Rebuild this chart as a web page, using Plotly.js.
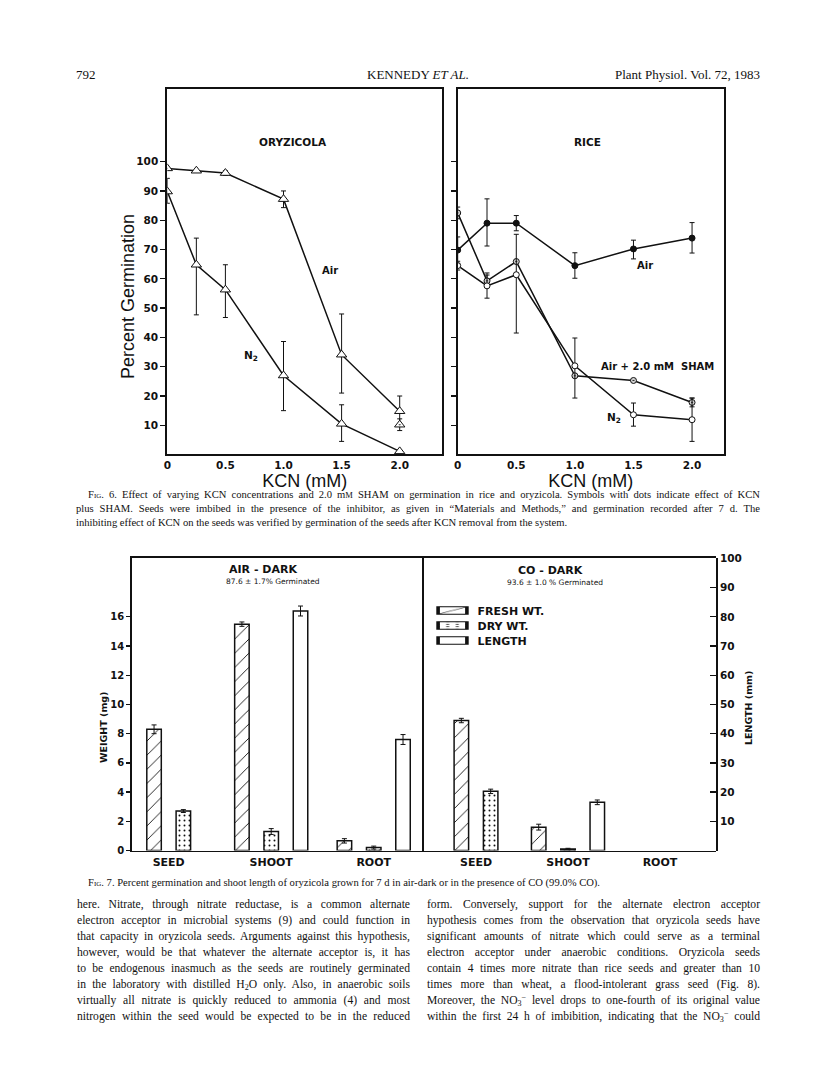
<!DOCTYPE html>
<html>
<head>
<meta charset="utf-8">
<script src="https://cdn.plot.ly/plotly-3.0.1.min.js"></script>
<style>
  body { margin:0; padding:0; background:#fff; }
  #page { position:relative; width:816px; height:1073px; overflow:hidden; background:#fff; }
  #chart { position:absolute; left:0; top:0; width:816px; height:1073px; }
  .t { position:absolute; font-family:"Liberation Serif","Times New Roman",serif; color:#111; white-space:nowrap; }
  .hdr { font-size:13px; line-height:16px; }
  .cap { font-size:10.6px; line-height:14px; height:14px; }
  .body { font-size:11.6px; line-height:16px; height:16px; width:333px; text-align:justify; text-align-last:justify; }
  .j { text-align:justify; text-align-last:justify; }
  .sc { font-variant:small-caps; }
  .lo { font-size:70%; position:relative; top:0.25em; line-height:0; vertical-align:baseline; }
  .hi { font-size:70%; position:relative; top:-0.45em; line-height:0; vertical-align:baseline; }
</style>
</head>
<body>
<div id="page">
  <div id="chart"></div>

  <div class="t hdr" style="left:76px;top:67px;">792</div>
  <div class="t hdr" style="left:318px;top:67px;width:200px;text-align:center;">KENNEDY <i>ET AL.</i></div>
  <div class="t hdr" style="left:560px;top:67px;width:200px;text-align:right;">Plant Physiol. Vol. 72, 1983</div>

  <div class="t cap j" style="left:88px;top:488px;width:672px;"><span class="sc">Fig.</span> 6. Effect of varying KCN concentrations and 2.0 m<span style="font-size:80%">M</span> SHAM on germination in rice and oryzicola. Symbols with dots indicate effect of KCN</div>
  <div class="t cap j" style="left:76px;top:502px;width:684px;">plus SHAM. Seeds were imbibed in the presence of the inhibitor, as given in “Materials and Methods,” and germination recorded after 7 d. The</div>
  <div class="t cap" style="left:76px;top:516px;">inhibiting effect of KCN on the seeds was verified by germination of the seeds after KCN removal from the system.</div>

  <div class="t cap" style="left:88px;top:876px;"><span class="sc">Fig.</span> 7. Percent germination and shoot length of oryzicola grown for 7 d in air-dark or in the presence of CO (99.0% CO).</div>

  <div class="t body" style="left:77px;top:897px;">here. Nitrate, through nitrate reductase, is a common alternate</div>
  <div class="t body" style="left:77px;top:913px;">electron acceptor in microbial systems (9) and could function in</div>
  <div class="t body" style="left:77px;top:929px;">that capacity in oryzicola seeds. Arguments against this hypothesis,</div>
  <div class="t body" style="left:77px;top:945px;">however, would be that whatever the alternate acceptor is, it has</div>
  <div class="t body" style="left:77px;top:961px;">to be endogenous inasmuch as the seeds are routinely germinated</div>
  <div class="t body" style="left:77px;top:977px;">in the laboratory with distilled H<span class="lo">2</span>O only. Also, in anaerobic soils</div>
  <div class="t body" style="left:77px;top:993px;">virtually all nitrate is quickly reduced to ammonia (4) and most</div>
  <div class="t body" style="left:77px;top:1009px;">nitrogen within the seed would be expected to be in the reduced</div>

  <div class="t body" style="left:427px;top:897px;">form. Conversely, support for the alternate electron acceptor</div>
  <div class="t body" style="left:427px;top:913px;">hypothesis comes from the observation that oryzicola seeds have</div>
  <div class="t body" style="left:427px;top:929px;">significant amounts of nitrate which could serve as a terminal</div>
  <div class="t body" style="left:427px;top:945px;">electron acceptor under anaerobic conditions. Oryzicola seeds</div>
  <div class="t body" style="left:427px;top:961px;">contain 4 times more nitrate than rice seeds and greater than 10</div>
  <div class="t body" style="left:427px;top:977px;">times more than wheat, a flood-intolerant grass seed (Fig. 8).</div>
  <div class="t body" style="left:427px;top:993px;">Moreover, the NO<span class="lo">3</span><span class="hi">−</span> level drops to one-fourth of its original value</div>
  <div class="t body" style="left:427px;top:1009px;">within the first 24 h of imbibition, indicating that the NO<span class="lo">3</span><span class="hi">−</span> could</div>
</div>

<script>
// ---------------- DATA ----------------
// Fig. 6 — KCN concentration (mM)
const kcn = [0, 0.25, 0.5, 1.0, 1.5, 2.0];
const kcnTickVals = [0, 0.5, 1.0, 1.5, 2.0];
const kcnTickText = ['0', '0.5', '1.0', '1.5', '2.0'];
const germTickVals = [10, 20, 30, 40, 50, 60, 70, 80, 90, 100];

// Oryzicola
const oryAir = [97.7, 96.9, 96.1, 87.2, 34.1, 14.8];
const oryAirErrPlus = [0, 0, 0.8, 2.8, 13.9, 5.2];
const oryAirErrMinus = [0, 0, 0.8, 2.9, 13.1, 5.0];
const oryN2 = [89.8, 64.8, 56.3, 27.0, 10.5, 1.1];
const oryN2ErrPlus = [4.5, 9.1, 8.5, 11.6, 6.5, 0];
const oryN2ErrMinus = [4.0, 17.1, 9.5, 12.0, 6.0, 0];
const oryShamKcn = [2.0];
const orySham = [10.2];
const oryShamErr = [2.0];

// Rice
const riceAir = [69.8, 79.0, 79.0, 64.5, 70.2, 73.9];
const riceAirErrPlus = [4.5, 8.3, 2.6, 4.4, 3.0, 5.3];
const riceAirErrMinus = [4.5, 7.8, 2.6, 4.3, 3.4, 5.1];
const riceSham = [82.5, 59.3, 65.9, 26.9, 25.3, 17.8];
const riceShamErr = [2.0, 2.0, 0, 0, 0, 1.5];
const riceN2 = [64.5, 57.6, 61.4, 30.3, 13.6, 11.9];
const riceN2ErrPlus = [1.5, 4.4, 13.8, 9.5, 4.0, 7.4];
const riceN2ErrMinus = [1.5, 4.2, 19.9, 11.0, 3.9, 7.4];

// Fig. 7 — organs
const parts = ['SEED', 'SHOOT', 'ROOT'];
const weightTickVals = [0, 2, 4, 6, 8, 10, 12, 14, 16];
const lengthTickVals = [10, 20, 30, 40, 50, 60, 70, 80, 90, 100];
// Air - dark (weights mg, length mm)
const airFresh = [8.3, 15.5, 0.66];
const airFreshErr = [0.3, 0.15, 0.15];
const airDry = [2.7, 1.3, 0.2];
const airDryErr = [0.1, 0.2, 0.1];
const airLength = [null, 82, 38];
const airLengthErr = [0, 1.7, 1.7];
// CO - dark
const coFresh = [8.9, 1.6, null];
const coFreshErr = [0.15, 0.2, 0];
const coDry = [4.05, 0.1, null];
const coDryErr = [0.15, 0.05, 0];
const coLength = [null, 16.5, null];
const coLengthErr = [0, 0.8, 0];

// ---------------- LAYOUT HELPERS ----------------
const W = 816, H = 1073;
const fx = p => p / W;
const fy = p => 1 - p / H;
const BOLD = {family: 'DejaVu Sans, Verdana, sans-serif', weight: 'bold', color: '#111'};
const SANS = {family: 'Liberation Sans, Arial, sans-serif', color: '#111'};

function errs(plus, minus) {
  return {type: 'data', symmetric: false, array: plus, arrayminus: minus,
          color: '#111', thickness: 1, width: 2.5};
}
const lineStyle = {color: '#111', width: 1.5};

const traces = [];
// Fig 6 left: Oryzicola
traces.push({x: kcn, y: oryAir, xaxis: 'x', yaxis: 'y', type: 'scatter', mode: 'lines+markers',
  name: 'Air', line: lineStyle, cliponaxis: true,
  marker: {symbol: 'triangle-up', size: 9, color: 'white', line: {color: '#111', width: 1}},
  error_y: errs(oryAirErrPlus, oryAirErrMinus), showlegend: false});
traces.push({x: kcn, y: oryN2, xaxis: 'x', yaxis: 'y', type: 'scatter', mode: 'lines+markers',
  name: 'N2', line: lineStyle, cliponaxis: true,
  marker: {symbol: 'triangle-up', size: 9, color: 'white', line: {color: '#111', width: 1}},
  error_y: errs(oryN2ErrPlus, oryN2ErrMinus), showlegend: false});
traces.push({x: oryShamKcn, y: orySham, xaxis: 'x', yaxis: 'y', type: 'scatter', mode: 'markers',
  name: 'Air + SHAM', cliponaxis: true,
  marker: {symbol: 'triangle-up-dot', size: 9, color: 'white', line: {color: '#111', width: 1}},
  error_y: errs(oryShamErr, oryShamErr), showlegend: false});

// Fig 6 right: Rice
traces.push({x: kcn, y: riceAir, xaxis: 'x2', yaxis: 'y2', type: 'scatter', mode: 'lines+markers',
  name: 'Air', line: lineStyle, cliponaxis: true,
  marker: {symbol: 'circle', size: 6, color: '#111', line: {color: '#111', width: 1}},
  error_y: errs(riceAirErrPlus, riceAirErrMinus), showlegend: false});
traces.push({x: kcn, y: riceSham, xaxis: 'x2', yaxis: 'y2', type: 'scatter', mode: 'lines+markers',
  name: 'Air + 2.0 mM SHAM', line: lineStyle, cliponaxis: true,
  marker: {symbol: 'circle-dot', size: 6, color: '#cfcfcf', line: {color: '#111', width: 1}},
  error_y: errs(riceShamErr, riceShamErr), showlegend: false});
traces.push({x: kcn, y: riceN2, xaxis: 'x2', yaxis: 'y2', type: 'scatter', mode: 'lines+markers',
  name: 'N2', line: lineStyle, cliponaxis: true,
  marker: {symbol: 'circle', size: 6, color: 'white', line: {color: '#111', width: 1}},
  error_y: errs(riceN2ErrPlus, riceN2ErrMinus), showlegend: false});

// Fig 7 bars
const BAR_PX = 14.5, SLOT_PX = 29.3;
const X3 = [132, 422], X3R = [-0.358, 2.471];
const X4 = [422, 716], X4R = [-0.587, 2.609];
const ppc3 = (X3[1] - X3[0]) / (X3R[1] - X3R[0]);
const ppc4 = (X4[1] - X4[0]) / (X4R[1] - X4R[0]);

function groupOffsets(series, ppc) {
  const w = BAR_PX / ppc, s = SLOT_PX / ppc;
  const out = series.map(() => []);
  for (let i = 0; i < parts.length; i++) {
    const present = [];
    series.forEach((ser, k) => { if (ser[i] !== null && ser[i] !== undefined) present.push(k); });
    series.forEach((ser, k) => { out[k][i] = -w / 2; });
    present.forEach((k, j) => { out[k][i] = (j - (present.length - 1) / 2) * s - w / 2; });
  }
  return {w: w, off: out};
}
const freshPattern = {shape: '/', fgcolor: '#111', bgcolor: 'white', size: 10, solidity: 0.09};
const dryPattern = {shape: '.', fgcolor: '#111', bgcolor: 'white', size: 5, solidity: 0.12};
const barLine = {color: '#111', width: 1.5};
const barErr = arr => ({type: 'data', array: arr, color: '#111', thickness: 1, width: 2.5});

function addPanel(fresh, fErr, dry, dErr, len, lErr, xa, ppc, legend) {
  const g = groupOffsets([fresh, dry, len], ppc);
  traces.push({type: 'bar', x: parts, y: fresh, xaxis: xa, yaxis: 'y3', name: 'FRESH WT.',
    width: g.w, offset: g.off[0], marker: {color: 'white', line: barLine, pattern: freshPattern},
    error_y: barErr(fErr), showlegend: legend, legendrank: 1});
  traces.push({type: 'bar', x: parts, y: dry, xaxis: xa, yaxis: 'y3', name: 'DRY WT.',
    width: g.w, offset: g.off[1], marker: {color: 'white', line: barLine, pattern: dryPattern},
    error_y: barErr(dErr), showlegend: legend, legendrank: 2});
  traces.push({type: 'bar', x: parts, y: len, xaxis: xa, yaxis: 'y4', name: 'LENGTH',
    width: g.w, offset: g.off[2], marker: {color: 'white', line: barLine},
    error_y: barErr(lErr), showlegend: legend, legendrank: 3});
}
addPanel(airFresh, airFreshErr, airDry, airDryErr, airLength, airLengthErr, 'x3', ppc3, true);
addPanel(coFresh, coFreshErr, coDry, coDryErr, coLength, coLengthErr, 'x4', ppc4, false);

// ---------------- AXES ----------------
const F6Y = [fy(454), fy(89)];
const F7Y = [fy(850.5), fy(558)];
const common = {showgrid: false, zeroline: false, showline: true, linecolor: '#111', fixedrange: true};

const layout = {
  width: W, height: H,
  margin: {l: 0, r: 0, t: 0, b: 0},
  paper_bgcolor: 'rgba(0,0,0,0)', plot_bgcolor: 'rgba(0,0,0,0)',
  showlegend: true,
  legend: {x: fx(427.5), y: fy(596), xanchor: 'left', yanchor: 'top', bgcolor: 'rgba(0,0,0,0)',
           font: Object.assign({size: 11}, BOLD), itemwidth: 40, tracegroupgap: 0,
           traceorder: 'normal', itemclick: false, itemdoubleclick: false},
  bargap: 0,
  xaxis: Object.assign({}, common, {domain: [fx(167.3), fx(442)], range: [0, 2.364], anchor: 'y',
    linewidth: 2, mirror: true, ticks: '', tickvals: kcnTickVals, ticktext: kcnTickText,
    tickfont: Object.assign({size: 10.5}, BOLD),
    title: {text: 'KCN (mM)', font: Object.assign({size: 18}, SANS), standoff: 0}}),
  yaxis: Object.assign({}, common, {domain: F6Y, range: [0.2, 124.8], anchor: 'x',
    linewidth: 2, mirror: true, ticks: 'outside', ticklen: 5, tickwidth: 1.3, tickcolor: '#111',
    tickvals: germTickVals, tickfont: Object.assign({size: 10.5}, BOLD)}),
  xaxis2: Object.assign({}, common, {domain: [fx(457.7), fx(723.7)], range: [0, 2.27], anchor: 'y2',
    linewidth: 2, mirror: true, ticks: '', tickvals: kcnTickVals, ticktext: kcnTickText,
    tickfont: Object.assign({size: 10.5}, BOLD),
    title: {text: 'KCN (mM)', font: Object.assign({size: 18}, SANS), standoff: 0}}),
  yaxis2: Object.assign({}, common, {domain: F6Y, range: [0.2, 124.8], anchor: 'x2',
    linewidth: 2, mirror: true, ticks: 'outside', ticklen: 5, tickwidth: 1.3, tickcolor: '#111',
    tickvals: germTickVals, showticklabels: false}),
  xaxis3: Object.assign({}, common, {domain: [fx(X3[0]), fx(X3[1])], type: 'category',
    categoryorder: 'array', categoryarray: parts, range: X3R, anchor: 'y3',
    linewidth: 1.8, mirror: true, ticks: '', tickfont: Object.assign({size: 11}, BOLD)}),
  yaxis3: Object.assign({}, common, {domain: F7Y, range: [0, 20.03], anchor: 'x3',
    linewidth: 1.8, mirror: true, ticks: 'outside', ticklen: 4, tickwidth: 1.3, tickcolor: '#111',
    tickvals: weightTickVals, tickfont: Object.assign({size: 10}, BOLD)}),
  xaxis4: Object.assign({}, common, {domain: [fx(X4[0]), fx(X4[1])], type: 'category',
    categoryorder: 'array', categoryarray: parts, range: X4R, anchor: 'y3',
    linewidth: 1.8, mirror: true, ticks: '', tickfont: Object.assign({size: 11}, BOLD)}),
  yaxis4: Object.assign({}, common, {domain: F7Y, range: [0, 100.15], anchor: 'x4', side: 'right',
    linewidth: 1.8, ticks: 'inside', ticklen: 6, tickwidth: 1.3, tickcolor: '#111',
    tickvals: lengthTickVals, tickfont: Object.assign({size: 10.5}, BOLD)}),
  annotations: []
};

function ann(text, x, y, font, extra) {
  layout.annotations.push(Object.assign({text: text, x: fx(x), y: fy(y), xref: 'paper', yref: 'paper',
    showarrow: false, xanchor: 'center', yanchor: 'middle', font: font}, extra || {}));
}
ann('ORYZICOLA', 293, 142, Object.assign({size: 10.5}, BOLD));
ann('Air', 330, 270, Object.assign({size: 10}, BOLD));
ann('N<sub>2</sub>', 251, 356, Object.assign({size: 10.5}, BOLD));
ann('RICE', 587, 142, Object.assign({size: 10.5}, BOLD));
ann('Air', 645, 265, Object.assign({size: 10}, BOLD));
ann('Air + 2.0 mM  SHAM', 657, 367, Object.assign({size: 10}, BOLD));
ann('N<sub>2</sub>', 614, 418, Object.assign({size: 10.5}, BOLD));
ann('Percent Germination', 128, 297, Object.assign({size: 18}, SANS), {textangle: -90});
ann('AIR - DARK', 263, 569, Object.assign({size: 11}, BOLD));
ann('87.6 ± 1.7% Germinated', 273, 581, {family: 'DejaVu Sans, sans-serif', size: 7.5, color: '#111'});
ann('CO - DARK', 550, 570, Object.assign({size: 11}, BOLD));
ann('93.6 ± 1.0 % Germinated', 555, 582, {family: 'DejaVu Sans, sans-serif', size: 7.5, color: '#111'});
ann('WEIGHT (mg)', 103, 728, Object.assign({size: 9.5}, BOLD), {textangle: -90});
ann('LENGTH (mm)', 748, 708, Object.assign({size: 9.5}, BOLD), {textangle: -90});

Plotly.newPlot('chart', traces, layout, {staticPlot: true, displayModeBar: false}).then(() => {
  // widen the legend swatches into flat rectangles like the original key
  document.querySelectorAll('#chart .legend .legendpoints path').forEach(p => {
    const old = p.getAttribute('transform') || '';
    p.setAttribute('transform', old + ' scale(2.4,0.62)');
  });
  // tighten legend row spacing to that of the original key
  const rows = Array.from(document.querySelectorAll('#chart .legend g.traces'));
  let y0 = null;
  rows.forEach((g, i) => {
    const m = /translate\(\s*([-\d.]+)[ ,]+([-\d.]+)\s*\)/.exec(g.getAttribute('transform') || '');
    if (!m) return;
    if (y0 === null) y0 = parseFloat(m[2]);
    g.setAttribute('transform', 'translate(' + m[1] + ',' + (y0 + i * 15) + ')');
  });
});
</script>
</body>
</html>
